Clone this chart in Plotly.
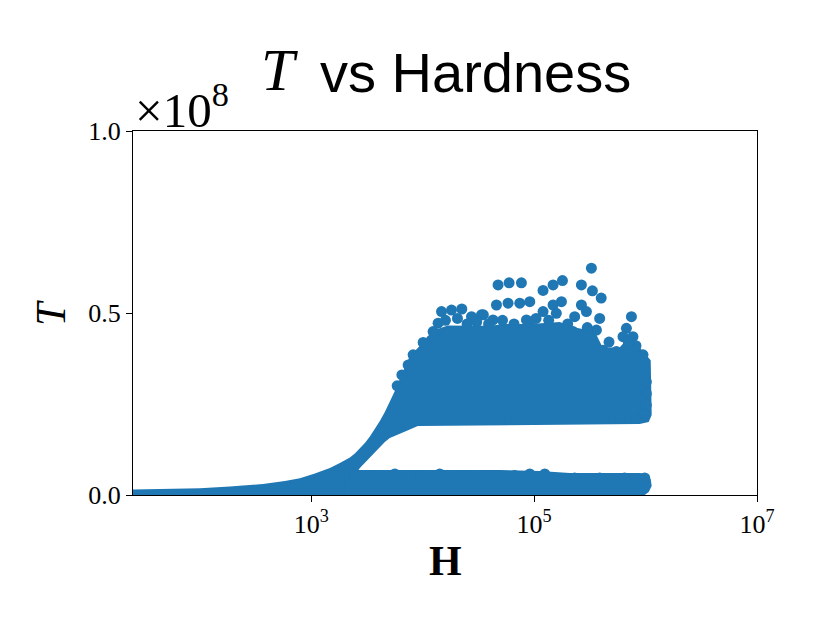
import plotly.graph_objects as go

BLUE = "#1f77b4"

# ---- data (H values, T in units of 1e8) ----
# outline of the dense curve + upper cloud
blob_H = [25.1, 53.9, 100.2, 186.2, 368.1, 579.7, 790.7, 1077, 1245, 1468, 1805, 2001,
          2220, 2460, 2729, 3026, 3356, 3720, 4124, 4572, 5069, 5620, 6231, 6908, 7659,
          9036, 11110, 13650, 16780, 26420, 39960, 54510, 91390, 169800, 231300, 349400,
          412100, 585000, 690100, 884800, 1112000, 1135000, 1067000, 884800, 9036, 7659,
          6231, 5069, 4572, 4124, 3720, 3356, 3026, 2729, 2313, 2042, 25.1]
blob_T = [0.0151, 0.0165, 0.0184, 0.0234, 0.0302, 0.0385, 0.0459, 0.0591, 0.0659, 0.0742,
          0.0879, 0.0948, 0.1030, 0.1140, 0.1277, 0.1429, 0.1607, 0.1813, 0.2033, 0.2280,
          0.2555, 0.2857, 0.3187, 0.3516, 0.3819, 0.4038, 0.4368, 0.4560, 0.4660, 0.4650,
          0.4650, 0.4700, 0.4700, 0.4750, 0.4600, 0.4500, 0.4050, 0.4050, 0.4300, 0.4050,
          0.3700, 0.2198, 0.2005, 0.1951, 0.1896, 0.1799, 0.1690, 0.1566, 0.1456, 0.1319,
          0.1181, 0.1044, 0.0907, 0.0742, 0.0412, 0.0, 0.0]

# outline of the low band
band_H = [2000, 6233, 17500, 49090, 112200, 208600, 884800, 1023000, 1112000, 1135000,
          1067000, 982500, 2000]
band_T = [0.0687, 0.0687, 0.0687, 0.0687, 0.0659, 0.0604, 0.0604, 0.0577, 0.0440, 0.0247,
          0.0082, 0.0, 0.0]

# individual points on the upper edge of the cloud
top_H = [7396, 8204, 10090, 12400, 13740, 14750, 18130, 22420, 27400, 33660, 45900, 47450,
         58340, 59600, 74300, 76900, 91400, 120200, 147900, 179500, 265600, 326500, 333300,
         399800, 120200, 175800, 147900, 265600, 294400, 231000, 387400, 746400, 673200,
         627100, 770600, 948400, 982500, 1016000, 1016000, 1016000, 982500, 91400, 85300,
         158100, 223400, 362200, 415000, 547000, 35000, 42760, 6500, 5900, 16000, 20500,
         25000, 30500, 39000, 52000, 66000, 104000, 135000, 200000, 300000, 470000, 820000,
         700000]
top_T = [0.357, 0.385, 0.419, 0.449, 0.472, 0.504, 0.508, 0.511, 0.490, 0.495, 0.522, 0.577,
         0.527, 0.583, 0.527, 0.583, 0.531, 0.562, 0.577, 0.589, 0.577, 0.623, 0.561, 0.541,
         0.504, 0.531, 0.522, 0.522, 0.504, 0.490, 0.485, 0.490, 0.458, 0.435, 0.435, 0.385,
         0.348, 0.311, 0.279, 0.247, 0.224, 0.476, 0.481, 0.499, 0.449, 0.453, 0.398, 0.394,
         0.495, 0.481, 0.330, 0.300, 0.480, 0.485, 0.470, 0.475, 0.470, 0.480, 0.470, 0.485,
         0.480, 0.470, 0.460, 0.420, 0.410, 0.420]

# points along the top of the low band
low_H = [2460, 3491, 5620, 9420, 14220, 23880, 39960, 66990, 91390, 124500, 231300, 387500,
         649000, 982500]
low_T = [0.0536, 0.0536, 0.0577, 0.0536, 0.0577, 0.0536, 0.0536, 0.0536, 0.0577, 0.0577,
         0.0467, 0.0467, 0.0467, 0.0467]

# points along the bottom of the cloud
floor_H = [10450, 14220, 19410, 26420, 36060, 49090, 66990, 91390, 124500, 169800, 231300,
           315500, 429900, 585000, 798000]
floor_T = [0.210] * 15

x_tickvals = [1e3, 1e5, 1e7]
x_ticktext = ["10<sup>3</sup>", "10<sup>5</sup>", "10<sup>7</sup>"]
y_tickvals = [0.0, 0.5, 1.0]
y_ticktext = ["0.0", "0.5", "1.0"]

SERIF = "Liberation Serif"
SANS = "Liberation Sans"

fig = go.Figure()
for hx, ty in [(blob_H, blob_T), (band_H, band_T)]:
    fig.add_trace(go.Scatter(x=hx, y=ty, mode="lines", fill="toself", fillcolor=BLUE,
                             line=dict(width=0, color=BLUE), hoverinfo="skip",
                             showlegend=False))
for hx, ty in [(top_H, top_T), (low_H, low_T), (floor_H, floor_T)]:
    fig.add_trace(go.Scatter(x=hx, y=ty, mode="markers",
                             marker=dict(size=11, color=BLUE, line=dict(width=0)),
                             showlegend=False))

axis_common = dict(showline=True, mirror=True, linecolor="black", linewidth=1.2,
                   ticks="outside", ticklen=6, tickwidth=1.2, tickcolor="black",
                   showgrid=False, zeroline=False,
                   tickfont=dict(family=SERIF, size=26, color="black"))

fig.update_xaxes(type="log", range=[1.4, 7], tickvals=x_tickvals, ticktext=x_ticktext,
                 **axis_common)
fig.update_yaxes(range=[0, 1], tickvals=y_tickvals, ticktext=y_ticktext, **axis_common)

fig.update_layout(
    width=830, height=623,
    margin=dict(l=133, r=73, t=131, b=128, autoexpand=False),
    plot_bgcolor="white", paper_bgcolor="white",
    annotations=[
        dict(text="<i>T</i>", xref="paper", yref="paper", x=0.2676, y=1.0, yshift=61,
             xanchor="right", yanchor="middle", showarrow=False,
             font=dict(family=SERIF, size=60, color="black")),
        dict(text="vs Hardness", xref="paper", yref="paper", x=0.2965, y=1.0, yshift=59,
             xanchor="left", yanchor="middle", showarrow=False,
             font=dict(family=SANS, size=56, color="black")),
        dict(text="×10<sup>8</sup>", xref="paper", yref="paper", x=0.0, y=1.0, yshift=-9,
             xanchor="left", yanchor="bottom", showarrow=False,
             font=dict(family=SERIF, size=49, color="black")),
        dict(text="<i>T</i>", xref="paper", yref="paper", x=0.0, y=0.5, xshift=-82,
             xanchor="center", yanchor="middle", textangle=-90, showarrow=False,
             font=dict(family=SERIF, size=42, color="black")),
        dict(text="<b>H</b>", xref="paper", yref="paper", x=0.5, y=0.0, yshift=-66,
             xanchor="center", yanchor="middle", showarrow=False,
             font=dict(family=SERIF, size=42, color="black")),
    ],
)

fig.write_html("out.html", config={"displayModeBar": False},
               post_script="document.body.style.margin='0px';")
